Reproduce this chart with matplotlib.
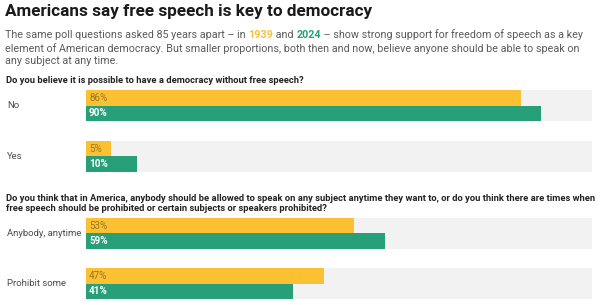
import matplotlib
matplotlib.use("Agg")
import matplotlib.pyplot as plt

plt.rcParams['font.family'] = ['Roboto', 'DejaVu Sans']

# data
q1_title = "Do you believe it is possible to have a democracy without free speech?"
q1_cats = ["No", "Yes"]
q1_1939 = [86, 5]
q1_2024 = [90, 10]

q2_title = ("Do you think that in America, anybody should be allowed to speak on any subject anytime they want to, "
            "or do you think there are times when\nfree speech should be prohibited or certain subjects or speakers prohibited?")
q2_cats = ["Anybody, anytime", "Prohibit some"]
q2_1939 = [53, 47]
q2_2024 = [59, 41]

YELLOW = "#fcc133"
GREEN = "#27a07a"
GRAY = "#f2f2f2"

W, H = 600, 305
fig = plt.figure(figsize=(W / 100, H / 100), dpi=100)


def fx(x):
    return x / W


def fy(y):
    return 1 - y / H


def bars(top, bottom, cats, v1939, v2024):
    ax = fig.add_axes([fx(86), fy(bottom), fx(592) - fx(86), (bottom - top) / H])
    h = 0.305
    ys = list(range(len(cats)))
    ax.barh(ys, [100] * len(cats), height=2 * h, color=GRAY, linewidth=0)
    ax.barh([y - h / 2 for y in ys], v1939, height=h, color=YELLOW, linewidth=0)
    ax.barh([y + h / 2 for y in ys], v2024, height=h, color=GREEN, linewidth=0)
    ax.set_xlim(0, 100)
    ax.set_ylim(ys[-1] + h, ys[0] - h)
    ax.axis("off")
    for y, c, a, b in zip(ys, cats, v1939, v2024):
        ax.text(0.6, y - h / 2, f"{a}%", va="center", ha="left", fontsize=7.1,
                color="#9a7620")
        ax.text(0.6, y + h / 2, f"{b}%", va="center", ha="left", fontsize=7.1,
                color="white", fontweight="bold")
        ax.text(-79 / 506 * 100, y, c, va="center", ha="left", fontsize=6.8,
                color="#4a4a4a")
    return ax


# title
fig.text(fx(5), fy(15.7), "Americans say free speech is key to democracy",
         fontsize=12.3, fontweight="bold", color="#1a1a1a", va="baseline")

# subtitle with highlighted years
fig.canvas.draw()
renderer = fig.canvas.get_renderer()
SUB = "#5a5a5a"
sub_kw = dict(fontsize=7.75, va="baseline")
pieces = [("The same poll questions asked 85 years apart \u2013 in ", SUB, "normal"),
          ("1939", YELLOW, "bold"),
          (" and ", SUB, "normal"),
          ("2024", GREEN, "bold"),
          (" \u2013 show strong support for freedom of speech as a key", SUB, "normal")]
x = fx(5)
for txt, col, wt in pieces:
    t = fig.text(x, fy(38.3), txt, fontweight=wt, color=col, **sub_kw)
    x += t.get_window_extent(renderer).width / W
fig.text(fx(5), fy(51.5), "element of American democracy. But smaller proportions, both then and now, "
         "believe anyone should be able to speak on", color=SUB, **sub_kw)
fig.text(fx(5), fy(64.3), "any subject at any time.", color=SUB, **sub_kw)

# questions
fig.text(fx(6), fy(83.3), q1_title, fontsize=6.75, fontweight="bold", color="#222222",
         va="baseline")
fig.text(fx(6), fy(211), q2_title, fontsize=6.75, fontweight="bold", color="#222222",
         va="baseline", linespacing=1.2)

bars(90, 172, q1_cats, q1_1939, q1_2024)
bars(218, 299, q2_cats, q2_1939, q2_2024)

fig.savefig("out.png", dpi=100, facecolor="white")
